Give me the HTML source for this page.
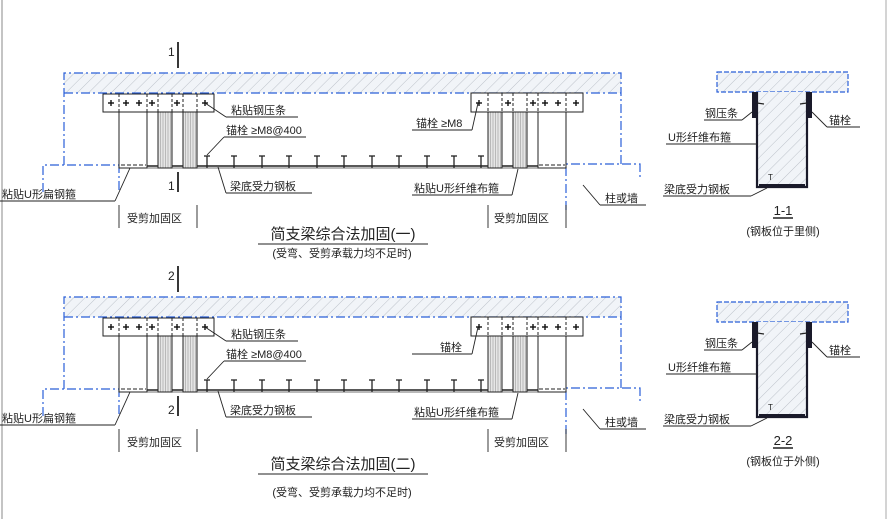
<!DOCTYPE html>
<html><head><meta charset="utf-8"><style>
html,body{margin:0;padding:0;background:#fff;}
svg{display:block}
text{font-family:"Liberation Sans","Noto Sans CJK SC",sans-serif;fill:#222;}
</style></head><body>
<svg width="888" height="519" viewBox="0 0 888 519" xmlns="http://www.w3.org/2000/svg">
<defs>
<pattern id="h" width="8" height="8" patternUnits="userSpaceOnUse" patternTransform="rotate(45)">
<rect width="8" height="8" fill="#f1f4f8"/><line x1="0" y1="0" x2="0" y2="8" stroke="#b0b6be" stroke-width="0.8"/></pattern>
<pattern id="f" width="2.5" height="4" patternUnits="userSpaceOnUse">
<rect width="2.5" height="4" fill="#e6e6e6"/><line x1="0.5" y1="0" x2="0.5" y2="4" stroke="#999" stroke-width="0.6"/></pattern>
<g id="bolt"><line x1="0" y1="156" x2="0" y2="168" stroke="#222" stroke-width="1.3"/><line x1="-3" y1="156" x2="3" y2="156" stroke="#222" stroke-width="1.3"/></g>
<g id="plus"><line x1="-3" y1="0" x2="3" y2="0" stroke="#111" stroke-width="1.4"/><line x1="0" y1="-3" x2="0" y2="3" stroke="#111" stroke-width="1.4"/></g>
<g id="elev" fill="none">
<rect x="64" y="73" width="557" height="20" fill="url(#h)"/>
<path d="M64 165 V73 H621 V164" stroke="#2a5fd8" stroke-width="1.2" stroke-dasharray="9,3,2,3"/>
<line x1="64" y1="93" x2="621" y2="93" stroke="#2a5fd8" stroke-width="1.2" stroke-dasharray="9,3,2,3"/>
<path d="M43 192 V165 H119 V192" stroke="#2a5fd8" stroke-width="1.2" stroke-dasharray="9,3,2,3"/>
<path d="M566 210 V164 H640 V178" stroke="#2a5fd8" stroke-width="1.2" stroke-dasharray="9,3,2,3"/>
<line x1="119" y1="166" x2="566" y2="166" stroke="#222" stroke-width="1.6"/>
<line x1="119" y1="168" x2="566" y2="168" stroke="#444" stroke-width="0.8"/>
<rect x="158" y="112" width="14" height="56" fill="url(#f)" stroke="#222"/>
<rect x="183" y="112" width="14" height="56" fill="url(#f)" stroke="#222"/>
<rect x="488" y="112" width="14" height="56" fill="url(#f)" stroke="#222"/>
<rect x="513" y="112" width="14" height="56" fill="url(#f)" stroke="#222"/>
<rect x="119" y="112" width="28" height="56" fill="#fff" stroke="#222"/>
<rect x="538" y="112" width="28" height="56" fill="#fff" stroke="#222"/>
<line x1="121" y1="165" x2="146" y2="165" stroke="#222" stroke-dasharray="4,2"/>
<line x1="539" y1="165" x2="565" y2="165" stroke="#222" stroke-dasharray="4,2"/>
<rect x="103" y="94" width="111" height="18" fill="#fff" stroke="#222"/>
<rect x="471" y="93" width="112" height="19" fill="#fff" stroke="#222"/>
<g stroke="#222" stroke-dasharray="3,2"><line x1="119" y1="94" x2="119" y2="112"/><line x1="147" y1="94" x2="147" y2="112"/><line x1="158" y1="94" x2="158" y2="112"/><line x1="172" y1="94" x2="172" y2="112"/><line x1="183" y1="94" x2="183" y2="112"/><line x1="197" y1="94" x2="197" y2="112"/>
<line x1="488" y1="93" x2="488" y2="112"/><line x1="502" y1="93" x2="502" y2="112"/><line x1="513" y1="93" x2="513" y2="112"/><line x1="527" y1="93" x2="527" y2="112"/><line x1="538" y1="93" x2="538" y2="112"/><line x1="566" y1="93" x2="566" y2="112"/></g>
<g transform="translate(0,103)"><use href="#plus" x="111"/><use href="#plus" x="126"/><use href="#plus" x="139"/><use href="#plus" x="152"/><use href="#plus" x="177"/><use href="#plus" x="205"/>
<use href="#plus" x="479"/><use href="#plus" x="508"/><use href="#plus" x="533"/><use href="#plus" x="545"/><use href="#plus" x="558"/><use href="#plus" x="576"/></g>
<use href="#bolt" x="207"/><use href="#bolt" x="234"/><use href="#bolt" x="262"/><use href="#bolt" x="289"/><use href="#bolt" x="317"/><use href="#bolt" x="344"/><use href="#bolt" x="372"/><use href="#bolt" x="399"/><use href="#bolt" x="427"/><use href="#bolt" x="454"/><use href="#bolt" x="481"/>
<line x1="178" y1="42" x2="178" y2="68" stroke="#222" stroke-width="1.8"/>
<line x1="178" y1="172" x2="178" y2="192" stroke="#222" stroke-width="1.8"/>
<g stroke="#222" stroke-width="0.9">
<line x1="205" y1="103" x2="226" y2="117"/><line x1="226" y1="117" x2="298" y2="117"/>
<line x1="207" y1="155" x2="224" y2="137"/><line x1="224" y1="137" x2="306" y2="137"/>
<line x1="218" y1="167" x2="226" y2="193"/><line x1="226" y1="193" x2="312" y2="193"/>
<line x1="130" y1="168" x2="115" y2="201"/><line x1="0" y1="201" x2="115" y2="201"/>
<line x1="478" y1="103" x2="472" y2="130"/><line x1="412" y1="130" x2="472" y2="130"/>
<line x1="518" y1="169" x2="512" y2="195"/><line x1="412" y1="195" x2="512" y2="195"/>
<line x1="583" y1="185" x2="600" y2="205"/><line x1="600" y1="205" x2="646" y2="205"/>
<line x1="119" y1="205" x2="119" y2="228"/><line x1="197" y1="205" x2="197" y2="228"/>
<line x1="488" y1="205" x2="488" y2="228"/><line x1="566" y1="205" x2="566" y2="228"/>
</g>
</g>
<g id="sec" fill="none">
<rect x="717" y="72" width="131" height="20" fill="url(#h)" stroke="#2a5fd8" stroke-width="1.2" stroke-dasharray="5,2"/>
<path d="M757 92 V187 H807 V92" fill="url(#h)" stroke="#bbb" stroke-width="0.5"/>
<path d="M757 92 V187 H807 V92" stroke="#1a1a2a" stroke-width="2.2"/>
<rect x="752" y="92" width="5" height="26" fill="#1a1a2a"/>
<rect x="807" y="92" width="5" height="26" fill="#1a1a2a"/>
<line x1="757" y1="103" x2="764" y2="104" stroke="#222" stroke-width="1.2"/>
<line x1="807" y1="103" x2="800" y2="104" stroke="#222" stroke-width="1.2"/>
<rect x="759" y="184" width="46" height="3" fill="#1a1a2a"/>
<g stroke="#222" stroke-width="0.9">
<line x1="752" y1="112" x2="742" y2="120"/><line x1="704" y1="120" x2="742" y2="120"/>
<line x1="812" y1="112" x2="827" y2="127"/><line x1="827" y1="127" x2="860" y2="127"/>
<line x1="666" y1="144" x2="757" y2="144"/>
<line x1="767" y1="188" x2="751" y2="196"/><line x1="663" y1="196" x2="751" y2="196"/>
<line x1="773" y1="218" x2="793" y2="218" stroke-width="1.4"/>
</g>
</g>
</defs>
<line x1="2" y1="0" x2="2" y2="519" stroke="#888" stroke-width="1"/>
<line x1="886" y1="0" x2="886" y2="519" stroke="#aaa" stroke-width="1"/>

<use href="#elev"/>
<use href="#elev" y="224"/>
<use href="#sec"/>
<use href="#sec" y="230"/>

<g font-size="11">
<text x="168" y="56" font-size="12">1</text><text x="168" y="190" font-size="12">1</text>
<text x="231" y="114">粘贴钢压条</text>
<text x="226" y="134">锚栓 ≥M8@400</text>
<text x="230" y="190">梁底受力钢板</text>
<text x="2" y="198">粘贴U形扁钢箍</text>
<text x="127" y="222">受剪加固区</text>
<text x="416" y="127">锚栓 ≥M8</text>
<text x="414" y="192">粘贴U形纤维布箍</text>
<text x="605" y="202">柱或墙</text>
<text x="494" y="222">受剪加固区</text>
<text x="343" y="239" font-size="15" text-anchor="middle">简支梁综合法加固(一)</text>
<line x1="258" y1="244" x2="428" y2="244" stroke="#222" stroke-width="1"/>
<text x="342" y="257" text-anchor="middle">(受弯、受剪承载力均不足时)</text>

<text x="168" y="280" font-size="12">2</text><text x="168" y="414" font-size="12">2</text>
<text x="231" y="338">粘贴钢压条</text>
<text x="226" y="358">锚栓 ≥M8@400</text>
<text x="230" y="414">梁底受力钢板</text>
<text x="2" y="422">粘贴U形扁钢箍</text>
<text x="127" y="446">受剪加固区</text>
<text x="440" y="351">锚栓</text>
<text x="414" y="416">粘贴U形纤维布箍</text>
<text x="605" y="426">柱或墙</text>
<text x="494" y="446">受剪加固区</text>
<text x="343" y="469" font-size="15" text-anchor="middle">简支梁综合法加固(二)</text>
<line x1="258" y1="474" x2="428" y2="474" stroke="#222" stroke-width="1"/>
<text x="342" y="496" text-anchor="middle">(受弯、受剪承载力均不足时)</text>

<text x="705" y="117">钢压条</text><text x="829" y="124">锚栓</text>
<text x="668" y="141">U形纤维布箍</text><text x="664" y="193">梁底受力钢板</text>
<text x="768" y="180" font-size="8">T</text>
<text x="783" y="215" font-size="13" text-anchor="middle">1-1</text>
<text x="783" y="235" text-anchor="middle">(钢板位于里侧)</text>

<text x="705" y="347">钢压条</text><text x="829" y="354">锚栓</text>
<text x="668" y="371">U形纤维布箍</text><text x="664" y="423">梁底受力钢板</text>
<text x="768" y="410" font-size="8">T</text>
<text x="783" y="445" font-size="13" text-anchor="middle">2-2</text>
<text x="783" y="465" text-anchor="middle">(钢板位于外侧)</text>
</g>
</svg>
</body></html>
